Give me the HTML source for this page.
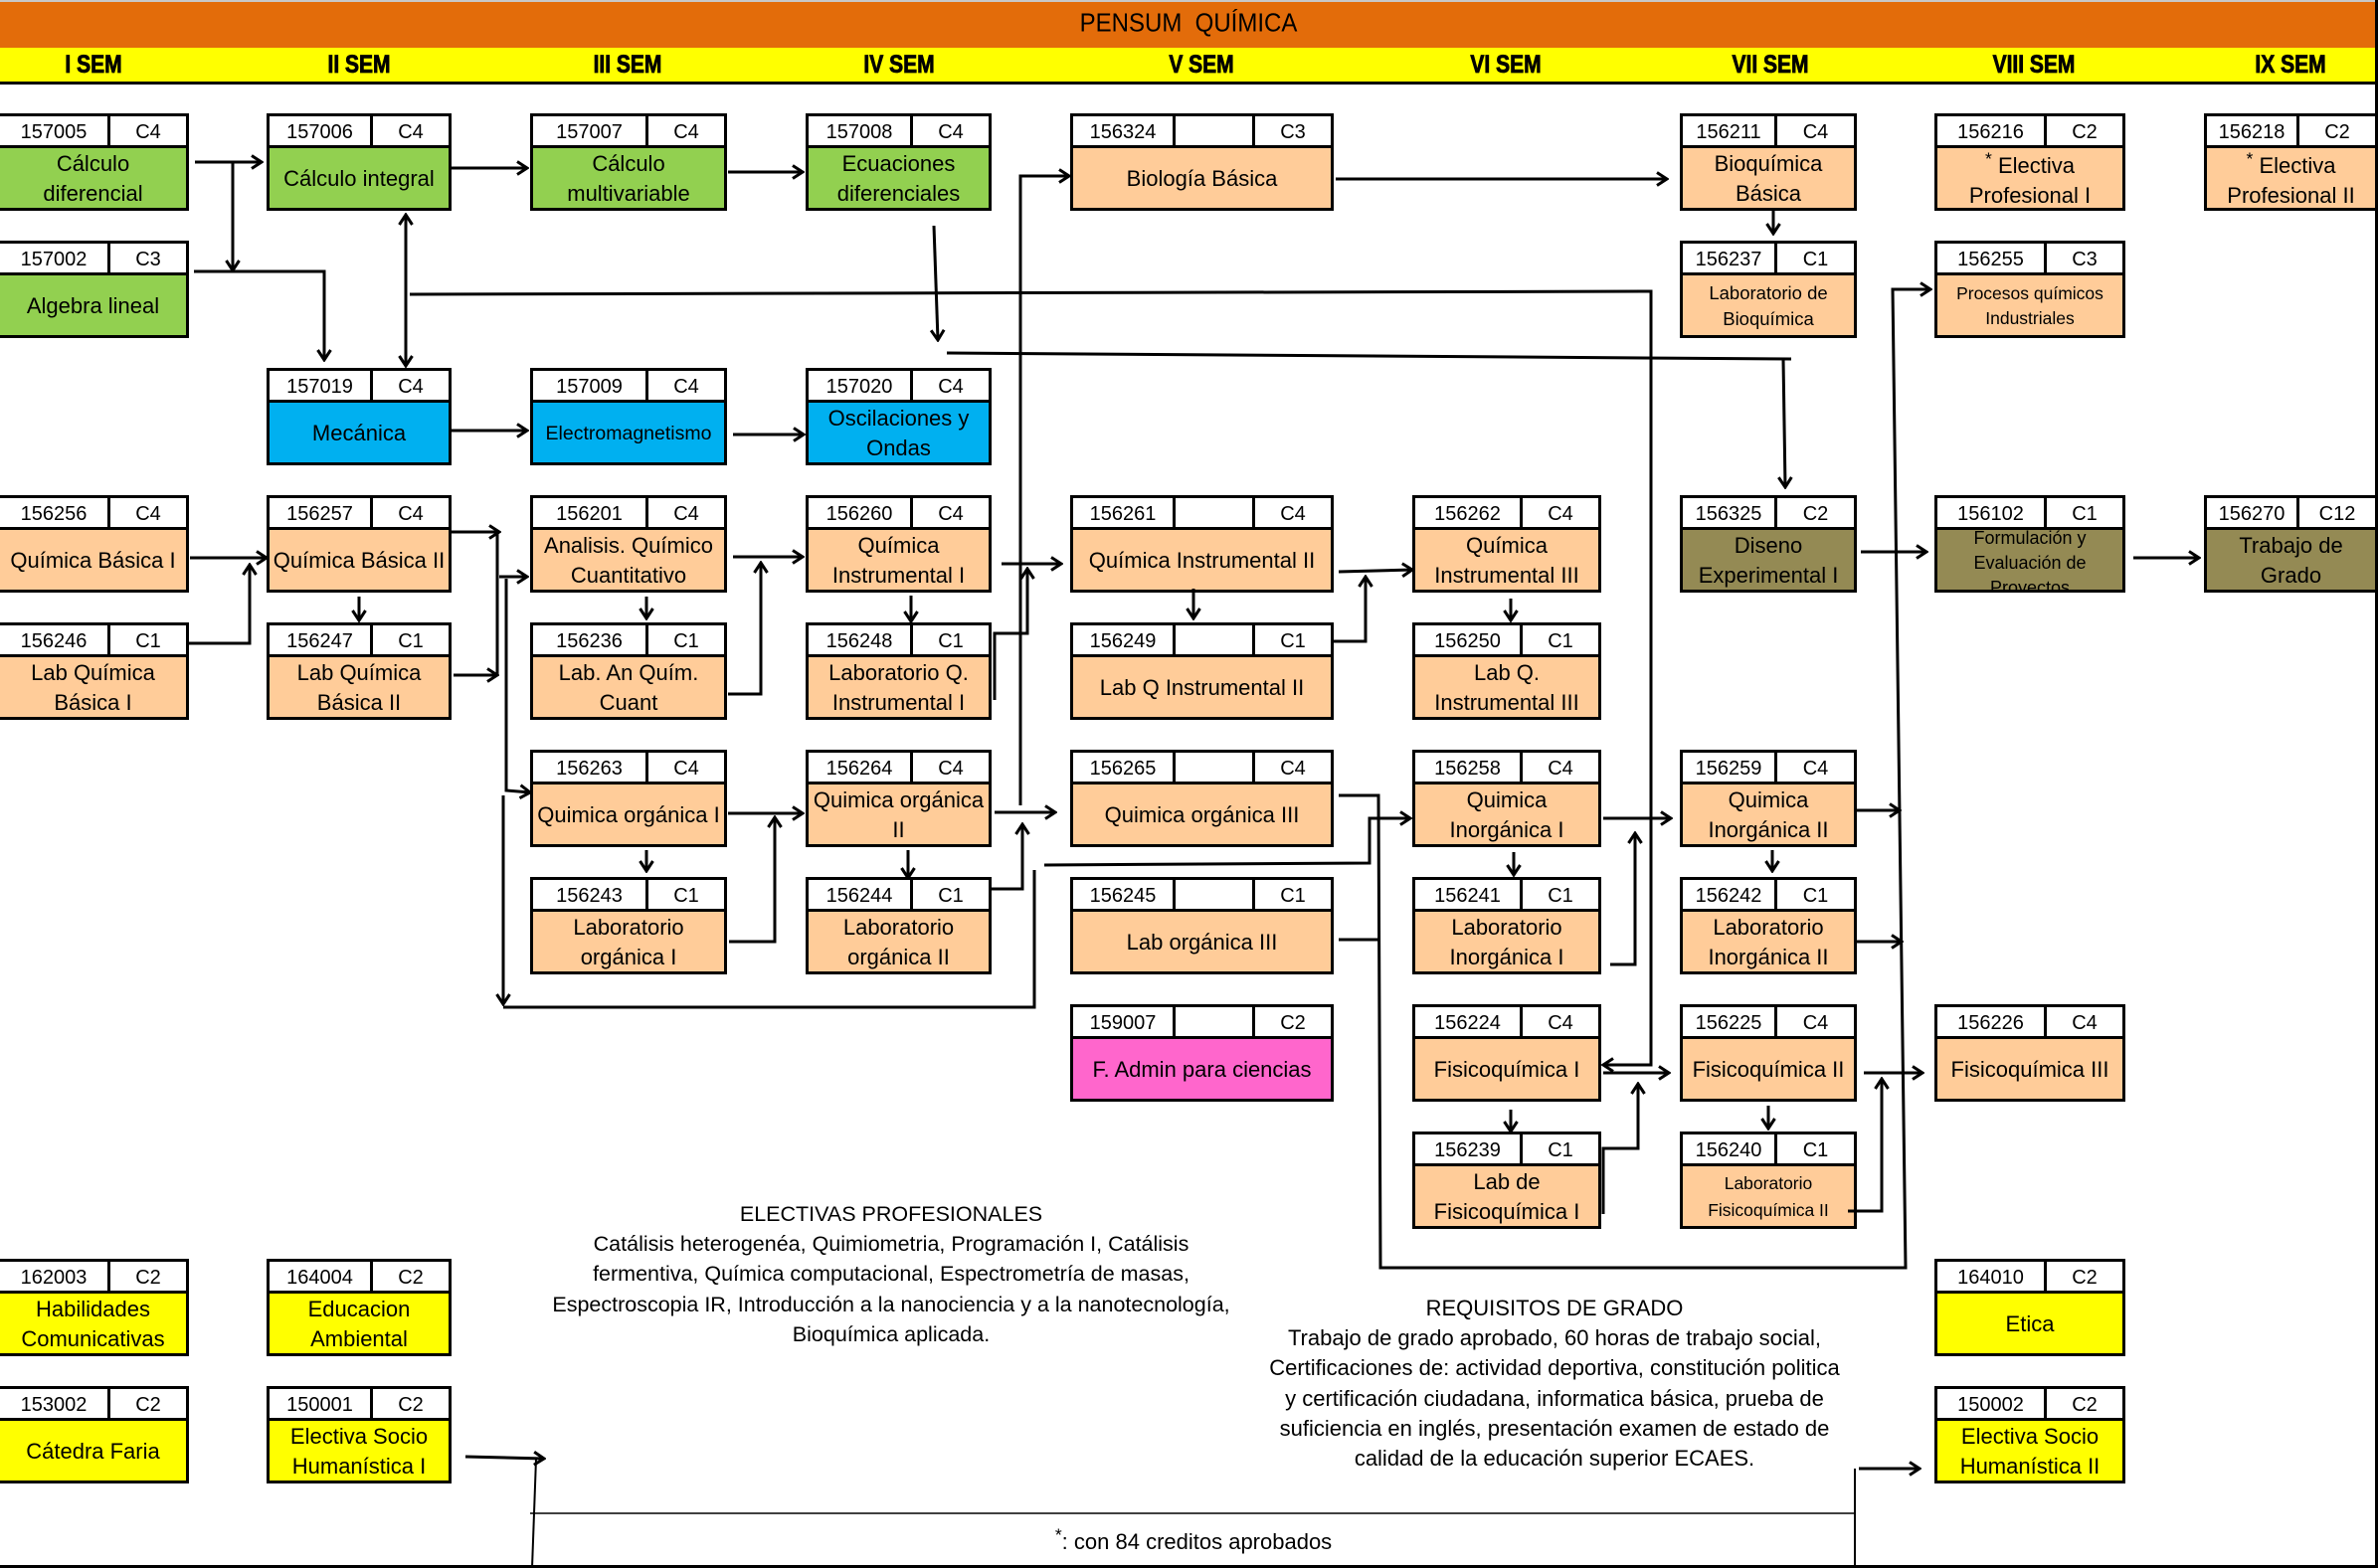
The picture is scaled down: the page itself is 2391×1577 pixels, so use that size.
<!DOCTYPE html>
<html><head><meta charset="utf-8">
<style>
html,body{margin:0;padding:0;background:#fff;}
body{width:2391px;height:1577px;position:relative;overflow:hidden;font-family:"Liberation Sans","DejaVu Sans",sans-serif;color:#000;}
.topline{position:absolute;left:0;top:0;width:2391px;height:2px;background:#c8c8c8;}
.orange{position:absolute;left:0;top:2px;width:2391px;height:46px;background:#E36C0A;}
.yellow{position:absolute;left:0;top:48px;width:2391px;height:34px;background:#FFFF00;border-bottom:3px solid #000;}
.title{position:absolute;left:995px;top:8px;width:400px;text-align:center;font-size:24px;line-height:32px;white-space:pre;transform:scaleY(1.08);}
.sem{position:absolute;top:52px;width:160px;text-align:center;font-weight:bold;font-size:21px;line-height:28px;transform:scaleY(1.18);-webkit-text-stroke:0.7px #000;}
.b{position:absolute;height:98px;border:3px solid #000;box-sizing:border-box;overflow:hidden;}
.h{position:absolute;left:0;right:0;top:0;height:29px;background:#fff;border-bottom:3px solid #000;z-index:2;}
.c{position:absolute;top:0;height:29px;line-height:32px;text-align:center;font-size:20px;white-space:nowrap;}
.d{position:absolute;top:0;width:3px;height:29px;background:#000;}
.t{position:absolute;left:0;right:0;top:32px;bottom:0;padding-top:2px;display:flex;align-items:center;justify-content:center;text-align:center;font-size:22px;line-height:30px;white-space:nowrap;z-index:1;}
.G{background:#92D050;}
.B{background:#00B0F0;}
.P{background:#FFCC99;}
.O{background:#948A54;}
.M{background:#FF66CC;}
.Y{background:#FFFF00;}
.note{position:absolute;text-align:center;font-size:21.5px;line-height:30.2px;white-space:nowrap;}
sup{font-size:0.8em;line-height:0;}
svg{position:absolute;left:0;top:0;z-index:5;}
</style></head><body>
<div class="topline"></div>
<div class="orange"></div>
<div class="yellow"></div>
<div class="title">PENSUM  QUÍMICA</div>
<div class="sem" style="left:14px">I SEM</div>
<div class="sem" style="left:281px">II SEM</div>
<div class="sem" style="left:551px">III SEM</div>
<div class="sem" style="left:824px">IV SEM</div>
<div class="sem" style="left:1128px">V SEM</div>
<div class="sem" style="left:1434px">VI SEM</div>
<div class="sem" style="left:1700px">VII SEM</div>
<div class="sem" style="left:1965px">VIII SEM</div>
<div class="sem" style="left:2223px">IX SEM</div>

<!-- Row 0 -->
<div class="b G" style="left:-3px;top:114px;width:193px"><div class="h"><span class="c" style="left:0;width:108px">157005</span><i class="d" style="left:108px"></i><span class="c" style="left:111px;right:0">C4</span></div><div class="t">Cálculo<br>diferencial</div></div>
<div class="b G" style="left:268px;top:114px;width:186px"><div class="h"><span class="c" style="left:0;width:101px">157006</span><i class="d" style="left:101px"></i><span class="c" style="left:104px;right:0">C4</span></div><div class="t">Cálculo integral</div></div>
<div class="b G" style="left:533px;top:114px;width:198px"><div class="h"><span class="c" style="left:0;width:113px">157007</span><i class="d" style="left:113px"></i><span class="c" style="left:116px;right:0">C4</span></div><div class="t">Cálculo<br>multivariable</div></div>
<div class="b G" style="left:810px;top:114px;width:187px"><div class="h"><span class="c" style="left:0;width:102px">157008</span><i class="d" style="left:102px"></i><span class="c" style="left:105px;right:0">C4</span></div><div class="t">Ecuaciones<br>diferenciales</div></div>
<div class="b P" style="left:1076px;top:114px;width:265px"><div class="h"><span class="c" style="left:0;width:100px">156324</span><i class="d" style="left:100px"></i><i class="d" style="left:180px"></i><span class="c" style="left:183px;right:0">C3</span></div><div class="t">Biología Básica</div></div>
<div class="b P" style="left:1689px;top:114px;width:178px"><div class="h"><span class="c" style="left:0;width:92px">156211</span><i class="d" style="left:92px"></i><span class="c" style="left:95px;right:0">C4</span></div><div class="t">Bioquímica<br>Básica</div></div>
<div class="b P" style="left:1945px;top:114px;width:192px"><div class="h"><span class="c" style="left:0;width:107px">156216</span><i class="d" style="left:107px"></i><span class="c" style="left:110px;right:0">C2</span></div><div class="t" style="padding-top:6px"><span><sup>*</sup> Electiva<br>Profesional I</span></div></div>
<div class="b P" style="left:2216px;top:114px;width:175px"><div class="h"><span class="c" style="left:0;width:90px">156218</span><i class="d" style="left:90px"></i><span class="c" style="left:93px;right:0">C2</span></div><div class="t" style="padding-top:6px"><span><sup>*</sup> Electiva<br>Profesional II</span></div></div>

<!-- Row 1 -->
<div class="b G" style="left:-3px;top:242px;width:193px"><div class="h"><span class="c" style="left:0;width:108px">157002</span><i class="d" style="left:108px"></i><span class="c" style="left:111px;right:0">C3</span></div><div class="t">Algebra lineal</div></div>
<div class="b P" style="left:1689px;top:242px;width:178px"><div class="h"><span class="c" style="left:0;width:92px">156237</span><i class="d" style="left:92px"></i><span class="c" style="left:95px;right:0">C1</span></div><div class="t" style="font-size:18.5px;line-height:26px">Laboratorio de<br>Bioquímica</div></div>
<div class="b P" style="left:1945px;top:242px;width:192px"><div class="h"><span class="c" style="left:0;width:107px">156255</span><i class="d" style="left:107px"></i><span class="c" style="left:110px;right:0">C3</span></div><div class="t" style="font-size:17.5px;line-height:25px">Procesos químicos<br>Industriales</div></div>

<!-- Row 2 -->
<div class="b B" style="left:268px;top:370px;width:186px"><div class="h"><span class="c" style="left:0;width:101px">157019</span><i class="d" style="left:101px"></i><span class="c" style="left:104px;right:0">C4</span></div><div class="t">Mecánica</div></div>
<div class="b B" style="left:533px;top:370px;width:198px"><div class="h"><span class="c" style="left:0;width:113px">157009</span><i class="d" style="left:113px"></i><span class="c" style="left:116px;right:0">C4</span></div><div class="t" style="font-size:19.5px">Electromagnetismo</div></div>
<div class="b B" style="left:810px;top:370px;width:187px"><div class="h"><span class="c" style="left:0;width:102px">157020</span><i class="d" style="left:102px"></i><span class="c" style="left:105px;right:0">C4</span></div><div class="t">Oscilaciones y<br>Ondas</div></div>

<!-- Row 3 -->
<div class="b P" style="left:-3px;top:498px;width:193px"><div class="h"><span class="c" style="left:0;width:108px">156256</span><i class="d" style="left:108px"></i><span class="c" style="left:111px;right:0">C4</span></div><div class="t">Química Básica I</div></div>
<div class="b P" style="left:268px;top:498px;width:186px"><div class="h"><span class="c" style="left:0;width:101px">156257</span><i class="d" style="left:101px"></i><span class="c" style="left:104px;right:0">C4</span></div><div class="t">Química Básica II</div></div>
<div class="b P" style="left:533px;top:498px;width:198px"><div class="h"><span class="c" style="left:0;width:113px">156201</span><i class="d" style="left:113px"></i><span class="c" style="left:116px;right:0">C4</span></div><div class="t">Analisis. Químico<br>Cuantitativo</div></div>
<div class="b P" style="left:810px;top:498px;width:187px"><div class="h"><span class="c" style="left:0;width:102px">156260</span><i class="d" style="left:102px"></i><span class="c" style="left:105px;right:0">C4</span></div><div class="t">Química<br>Instrumental I</div></div>
<div class="b P" style="left:1076px;top:498px;width:265px"><div class="h"><span class="c" style="left:0;width:100px">156261</span><i class="d" style="left:100px"></i><i class="d" style="left:180px"></i><span class="c" style="left:183px;right:0">C4</span></div><div class="t">Química Instrumental II</div></div>
<div class="b P" style="left:1420px;top:498px;width:190px"><div class="h"><span class="c" style="left:0;width:105px">156262</span><i class="d" style="left:105px"></i><span class="c" style="left:108px;right:0">C4</span></div><div class="t">Química<br>Instrumental III</div></div>
<div class="b O" style="left:1689px;top:498px;width:178px"><div class="h"><span class="c" style="left:0;width:92px">156325</span><i class="d" style="left:92px"></i><span class="c" style="left:95px;right:0">C2</span></div><div class="t">Diseno<br>Experimental I</div></div>
<div class="b O" style="left:1945px;top:498px;width:192px"><div class="h"><span class="c" style="left:0;width:107px">156102</span><i class="d" style="left:107px"></i><span class="c" style="left:110px;right:0">C1</span></div><div class="t" style="align-items:flex-start;font-size:18px;line-height:25px"><div style="margin-top:-6px">Formulación y<br>Evaluación de<br>Proyectos</div></div></div>
<div class="b O" style="left:2216px;top:498px;width:175px"><div class="h"><span class="c" style="left:0;width:90px">156270</span><i class="d" style="left:90px"></i><span class="c" style="left:93px;right:0">C12</span></div><div class="t">Trabajo de<br>Grado</div></div>

<!-- Row 4 -->
<div class="b P" style="left:-3px;top:626px;width:193px"><div class="h"><span class="c" style="left:0;width:108px">156246</span><i class="d" style="left:108px"></i><span class="c" style="left:111px;right:0">C1</span></div><div class="t">Lab Química<br>Básica I</div></div>
<div class="b P" style="left:268px;top:626px;width:186px"><div class="h"><span class="c" style="left:0;width:101px">156247</span><i class="d" style="left:101px"></i><span class="c" style="left:104px;right:0">C1</span></div><div class="t">Lab Química<br>Básica II</div></div>
<div class="b P" style="left:533px;top:626px;width:198px"><div class="h"><span class="c" style="left:0;width:113px">156236</span><i class="d" style="left:113px"></i><span class="c" style="left:116px;right:0">C1</span></div><div class="t">Lab. An Quím.<br>Cuant</div></div>
<div class="b P" style="left:810px;top:626px;width:187px"><div class="h"><span class="c" style="left:0;width:102px">156248</span><i class="d" style="left:102px"></i><span class="c" style="left:105px;right:0">C1</span></div><div class="t">Laboratorio Q.<br>Instrumental I</div></div>
<div class="b P" style="left:1076px;top:626px;width:265px"><div class="h"><span class="c" style="left:0;width:100px">156249</span><i class="d" style="left:100px"></i><i class="d" style="left:180px"></i><span class="c" style="left:183px;right:0">C1</span></div><div class="t">Lab Q Instrumental II</div></div>
<div class="b P" style="left:1420px;top:626px;width:190px"><div class="h"><span class="c" style="left:0;width:105px">156250</span><i class="d" style="left:105px"></i><span class="c" style="left:108px;right:0">C1</span></div><div class="t">Lab Q.<br>Instrumental III</div></div>

<!-- Row 5 -->
<div class="b P" style="left:533px;top:754px;width:198px"><div class="h"><span class="c" style="left:0;width:113px">156263</span><i class="d" style="left:113px"></i><span class="c" style="left:116px;right:0">C4</span></div><div class="t">Quimica orgánica I</div></div>
<div class="b P" style="left:810px;top:754px;width:187px"><div class="h"><span class="c" style="left:0;width:102px">156264</span><i class="d" style="left:102px"></i><span class="c" style="left:105px;right:0">C4</span></div><div class="t">Quimica orgánica<br>II</div></div>
<div class="b P" style="left:1076px;top:754px;width:265px"><div class="h"><span class="c" style="left:0;width:100px">156265</span><i class="d" style="left:100px"></i><i class="d" style="left:180px"></i><span class="c" style="left:183px;right:0">C4</span></div><div class="t">Quimica orgánica III</div></div>
<div class="b P" style="left:1420px;top:754px;width:190px"><div class="h"><span class="c" style="left:0;width:105px">156258</span><i class="d" style="left:105px"></i><span class="c" style="left:108px;right:0">C4</span></div><div class="t">Quimica<br>Inorgánica I</div></div>
<div class="b P" style="left:1689px;top:754px;width:178px"><div class="h"><span class="c" style="left:0;width:92px">156259</span><i class="d" style="left:92px"></i><span class="c" style="left:95px;right:0">C4</span></div><div class="t">Quimica<br>Inorgánica II</div></div>

<!-- Row 6 -->
<div class="b P" style="left:533px;top:882px;width:198px"><div class="h"><span class="c" style="left:0;width:113px">156243</span><i class="d" style="left:113px"></i><span class="c" style="left:116px;right:0">C1</span></div><div class="t">Laboratorio<br>orgánica I</div></div>
<div class="b P" style="left:810px;top:882px;width:187px"><div class="h"><span class="c" style="left:0;width:102px">156244</span><i class="d" style="left:102px"></i><span class="c" style="left:105px;right:0">C1</span></div><div class="t">Laboratorio<br>orgánica II</div></div>
<div class="b P" style="left:1076px;top:882px;width:265px"><div class="h"><span class="c" style="left:0;width:100px">156245</span><i class="d" style="left:100px"></i><i class="d" style="left:180px"></i><span class="c" style="left:183px;right:0">C1</span></div><div class="t">Lab orgánica III</div></div>
<div class="b P" style="left:1420px;top:882px;width:190px"><div class="h"><span class="c" style="left:0;width:105px">156241</span><i class="d" style="left:105px"></i><span class="c" style="left:108px;right:0">C1</span></div><div class="t">Laboratorio<br>Inorgánica I</div></div>
<div class="b P" style="left:1689px;top:882px;width:178px"><div class="h"><span class="c" style="left:0;width:92px">156242</span><i class="d" style="left:92px"></i><span class="c" style="left:95px;right:0">C1</span></div><div class="t">Laboratorio<br>Inorgánica II</div></div>

<!-- Row 7 -->
<div class="b M" style="left:1076px;top:1010px;width:265px"><div class="h"><span class="c" style="left:0;width:100px">159007</span><i class="d" style="left:100px"></i><i class="d" style="left:180px"></i><span class="c" style="left:183px;right:0">C2</span></div><div class="t">F. Admin para ciencias</div></div>
<div class="b P" style="left:1420px;top:1010px;width:190px"><div class="h"><span class="c" style="left:0;width:105px">156224</span><i class="d" style="left:105px"></i><span class="c" style="left:108px;right:0">C4</span></div><div class="t">Fisicoquímica I</div></div>
<div class="b P" style="left:1689px;top:1010px;width:178px"><div class="h"><span class="c" style="left:0;width:92px">156225</span><i class="d" style="left:92px"></i><span class="c" style="left:95px;right:0">C4</span></div><div class="t">Fisicoquímica II</div></div>
<div class="b P" style="left:1945px;top:1010px;width:192px"><div class="h"><span class="c" style="left:0;width:107px">156226</span><i class="d" style="left:107px"></i><span class="c" style="left:110px;right:0">C4</span></div><div class="t">Fisicoquímica III</div></div>

<!-- Row 8 -->
<div class="b P" style="left:1420px;top:1138px;width:190px"><div class="h"><span class="c" style="left:0;width:105px">156239</span><i class="d" style="left:105px"></i><span class="c" style="left:108px;right:0">C1</span></div><div class="t">Lab de<br>Fisicoquímica I</div></div>
<div class="b P" style="left:1689px;top:1138px;width:178px"><div class="h"><span class="c" style="left:0;width:92px">156240</span><i class="d" style="left:92px"></i><span class="c" style="left:95px;right:0">C1</span></div><div class="t" style="font-size:17.5px;line-height:27px">Laboratorio<br>Fisicoquímica II</div></div>

<!-- Row 9 -->
<div class="b Y" style="left:-3px;top:1266px;width:193px"><div class="h"><span class="c" style="left:0;width:108px">162003</span><i class="d" style="left:108px"></i><span class="c" style="left:111px;right:0">C2</span></div><div class="t">Habilidades<br>Comunicativas</div></div>
<div class="b Y" style="left:268px;top:1266px;width:186px"><div class="h"><span class="c" style="left:0;width:101px">164004</span><i class="d" style="left:101px"></i><span class="c" style="left:104px;right:0">C2</span></div><div class="t">Educacion<br>Ambiental</div></div>
<div class="b Y" style="left:1945px;top:1266px;width:192px"><div class="h"><span class="c" style="left:0;width:107px">164010</span><i class="d" style="left:107px"></i><span class="c" style="left:110px;right:0">C2</span></div><div class="t">Etica</div></div>

<!-- Row 10 -->
<div class="b Y" style="left:-3px;top:1394px;width:193px"><div class="h"><span class="c" style="left:0;width:108px">153002</span><i class="d" style="left:108px"></i><span class="c" style="left:111px;right:0">C2</span></div><div class="t">Cátedra Faria</div></div>
<div class="b Y" style="left:268px;top:1394px;width:186px"><div class="h"><span class="c" style="left:0;width:101px">150001</span><i class="d" style="left:101px"></i><span class="c" style="left:104px;right:0">C2</span></div><div class="t">Electiva Socio<br>Humanística I</div></div>
<div class="b Y" style="left:1945px;top:1394px;width:192px"><div class="h"><span class="c" style="left:0;width:107px">150002</span><i class="d" style="left:107px"></i><span class="c" style="left:110px;right:0">C2</span></div><div class="t">Electiva Socio<br>Humanística II</div></div>

<!-- Notes -->
<div class="note" style="left:496px;top:1206px;width:800px">ELECTIVAS PROFESIONALES<br>Catálisis heterogenéa, Quimiometria, Programación I, Catálisis<br>fermentiva, Química computacional, Espectrometría de masas,<br>Espectroscopia IR, Introducción a la nanociencia y a la nanotecnología,<br>Bioquímica aplicada.</div>
<div class="note" style="left:1213px;top:1301px;width:700px;font-size:22px">REQUISITOS DE GRADO<br>Trabajo de grado aprobado, 60 horas de trabajo social,<br>Certificaciones de: actividad deportiva, constitución politica<br>y certificación ciudadana, informatica básica, prueba de<br>suficiencia en inglés, presentación examen de estado de<br>calidad de la educación superior ECAES.</div>
<div class="note" style="left:1000px;top:1537px;width:400px;font-size:22px;line-height:27px"><sup>*</sup>: con 84 creditos aprobados</div>

<svg width="2391" height="1577" viewBox="0 0 2391 1577">
<defs>
<marker id="a" viewBox="0 0 14 16" markerWidth="14" markerHeight="16" refX="12" refY="8" orient="auto" markerUnits="userSpaceOnUse"><path d="M2,1.5 L12,8 L2,14.5" fill="none" stroke="#000" stroke-width="3"/></marker>
<marker id="s" viewBox="0 0 14 16" markerWidth="14" markerHeight="16" refX="12" refY="8" orient="auto-start-reverse" markerUnits="userSpaceOnUse"><path d="M2,1.5 L12,8 L2,14.5" fill="none" stroke="#000" stroke-width="3"/></marker>
</defs>
<g fill="none" stroke="#000" stroke-width="3">
<path d="M196,163H263" marker-end="url(#a)"/>
<path d="M234,163V272" marker-end="url(#a)"/>
<path d="M195,273H326V362" marker-end="url(#a)"/>
<path d="M408,216V368" marker-start="url(#s)" marker-end="url(#s)"/>
<path d="M412,296L1660,293V1071H1612" marker-end="url(#a)"/>
<path d="M454,169H530" marker-end="url(#a)"/>
<path d="M732,173H807" marker-end="url(#a)"/>
<path d="M939,227L943,342" marker-end="url(#a)"/>
<path d="M952,355L1801,361"/>
<path d="M1793,361L1795,490" marker-end="url(#a)"/>
<path d="M1026,810V177H1075" marker-end="url(#a)"/>
<path d="M1343,180H1676" marker-end="url(#a)"/>
<path d="M1783,212V235" marker-end="url(#a)"/>
<path d="M451,433H530" marker-end="url(#a)"/>
<path d="M737,437H808" marker-end="url(#a)"/>
<path d="M191,561H268" marker-end="url(#a)"/>
<path d="M190,647H251V568" marker-end="url(#a)"/>
<path d="M361,600V624" marker-end="url(#a)"/>
<path d="M454,535H502" marker-end="url(#a)"/>
<path d="M500,535V680"/>
<path d="M456,679H500" marker-end="url(#a)"/>
<path d="M502,580H530" marker-end="url(#a)"/>
<path d="M509,582V795L533,797" marker-end="url(#a)"/>
<path d="M506,800V1010" marker-end="url(#a)"/>
<path d="M506,1013H1040V875"/>
<path d="M1050,870L1377,868V823H1418" marker-end="url(#a)"/>
<path d="M650,600V622" marker-end="url(#a)"/>
<path d="M737,560H807" marker-end="url(#a)"/>
<path d="M732,698H765V566" marker-end="url(#a)"/>
<path d="M650,855V876" marker-end="url(#a)"/>
<path d="M732,818H807" marker-end="url(#a)"/>
<path d="M733,947H779V822" marker-end="url(#a)"/>
<path d="M916,599V625" marker-end="url(#a)"/>
<path d="M1007,567H1067" marker-end="url(#a)"/>
<path d="M1000,704V637H1033V572" marker-end="url(#a)"/>
<path d="M1000,817H1061" marker-end="url(#a)"/>
<path d="M994,894H1028V829" marker-end="url(#a)"/>
<path d="M913,855V883" marker-end="url(#a)"/>
<path d="M1200,592V622" marker-end="url(#a)"/>
<path d="M1346,575L1420,573" marker-end="url(#a)"/>
<path d="M1341,645H1373V580" marker-end="url(#a)"/>
<path d="M1519,602V624" marker-end="url(#a)"/>
<path d="M1346,800H1386L1388,1275H1916L1903,291H1941" marker-end="url(#a)"/>
<path d="M1346,945H1386"/>
<path d="M1612,823H1680" marker-end="url(#a)"/>
<path d="M1619,970H1644V838" marker-end="url(#a)"/>
<path d="M1522,857V880" marker-end="url(#a)"/>
<path d="M1867,815H1910" marker-end="url(#a)"/>
<path d="M1867,947H1912" marker-end="url(#a)"/>
<path d="M1782,855V876" marker-end="url(#a)"/>
<path d="M1871,555H1937" marker-end="url(#a)"/>
<path d="M2145,561H2211" marker-end="url(#a)"/>
<path d="M1612,1079H1678" marker-end="url(#a)"/>
<path d="M1612,1221V1155H1647V1090" marker-end="url(#a)"/>
<path d="M1519,1116V1138" marker-end="url(#a)"/>
<path d="M1778,1112V1135" marker-end="url(#a)"/>
<path d="M1874,1079H1933" marker-end="url(#a)"/>
<path d="M1858,1218H1892V1085" marker-end="url(#a)"/>
<path d="M468,1465L547,1467" marker-end="url(#a)"/>
<path d="M539,1467L535,1577" stroke-width="2"/>
<path d="M1869,1477H1930" marker-end="url(#a)"/>
<path d="M1865,1477V1577" stroke-width="2"/>
<path d="M533,1522H1865" stroke-width="1.5"/>
<path d="M0,1575.5H2391" stroke-width="3"/>
<path d="M2389.5,0V1577" stroke-width="3"/>
</g>
</svg>
</body></html>
